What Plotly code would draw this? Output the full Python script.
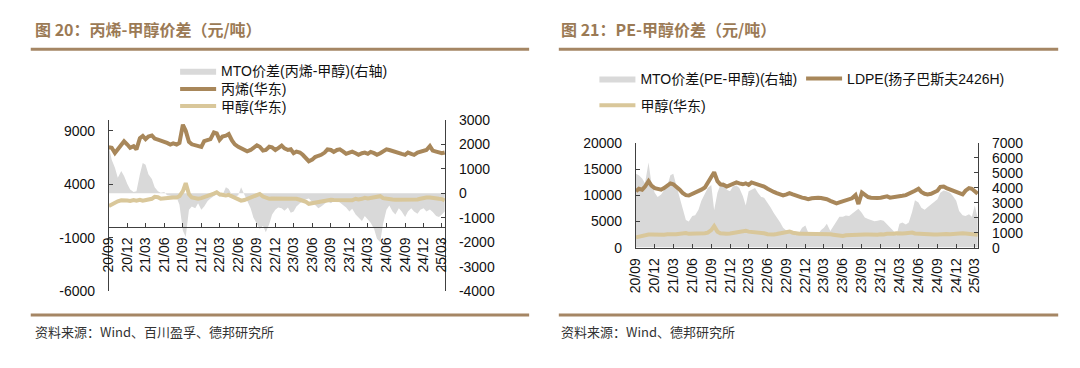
import pandas as pd
import plotly.graph_objects as go

# ---------------- data (semi-monthly samples) ----------------
dates = pd.date_range("2020-09-01", "2025-03-15", freq="SMS")

propylene = [7450, 7400, 6900, 7200, 7650, 8000, 7700, 7400, 7550, 7250,
             8300, 8500, 8200, 8450, 8550, 8250, 8150, 8100, 7950, 7850,
             7700, 7800, 7700, 7850, 9550, 8980, 7950, 7720, 7630, 7550,
             7480, 8020, 8140, 8200, 8830, 8740, 8140, 8440, 8530, 8680,
             8080, 7720, 7490, 7340, 7190, 7070, 7190, 7430, 7630, 7490,
             7130, 7190, 7490, 7430, 7190, 7370, 7600, 7340, 7190, 7250,
             6890, 7040, 6950, 6740, 6350, 6140, 6290, 6530, 6650, 6740,
             6950, 7250, 7190, 7010, 7190, 7250, 7040, 6830, 6950, 7040,
             6890, 6740, 6890, 6950, 6830, 7010, 6890, 6740, 6890, 7070,
             7250, 7190, 7070, 7010, 6920, 6830, 6740, 6950, 6830, 6740,
             6950, 7040, 7130, 7190, 7550, 7130, 7040, 6950, 6890, 6950]

methanol = [1950, 2100, 2280, 2400, 2490, 2510, 2460, 2430, 2510, 2460,
            2540, 2460, 2540, 2570, 2630, 2810, 2780, 2630, 2630, 2690,
            2720, 2750, 2750, 2870, 3350, 4100, 3050, 2750, 2630, 2630,
            2690, 2810, 2930, 2990, 3110, 3230, 3050, 2990, 2930, 2990,
            2840, 2750, 2570, 2460, 2510, 2600, 2720, 2810, 2990, 3080,
            2840, 2720, 2630, 2660, 2660, 2660, 2690, 2630, 2660, 2660,
            2720, 2630, 2540, 2460, 2340, 2160, 2220, 2340, 2400, 2460,
            2510, 2570, 2540, 2510, 2510, 2460, 2510, 2460, 2540, 2490,
            2630, 2570, 2630, 2720, 2660, 2690, 2750, 2840, 2870, 2690,
            2630, 2540, 2570, 2540, 2540, 2510, 2510, 2600, 2570, 2600,
            2570, 2630, 2720, 2750, 2750, 2690, 2630, 2630, 2600, 2460]

mto_spread_c3 = [1900, 1370, 1040, 640, 910, 710, 380, 160, 50, 80,
                 780, 1240, 1170, 780, 580, 250, 80, 20, 50, -80,
                 -100, -140, -160, -470, -1530, -1790, -670, -540, -610, -410,
                 -670, -540, -320, -210, -100, -30, -140, -80, 250, 180,
                 -80, -140, -80, 250, -50, -280, -610, -1000, -1260, -1460,
                 -1330, -1590, -1260, -870, -670, -580, -610, -710, -580, -800,
                 -740, -540, -410, -320, -240, -210, -340, -470, -610, -540,
                 -410, -340, -410, -320, -280, -370, -500, -580, -740, -630,
                 -870, -1000, -1130, -930, -1070, -1200, -1460, -1860, -1990, -1260,
                 -670, -500, -740, -870, -610, -740, -970, -740, -610, -740,
                 -840, -670, -610, -740, -660, -760, -930, -970, -870, -740]

ldpe = [10750, 11240, 11060, 11660, 12700, 11850, 11360, 11180, 11060, 11360,
        11970, 12270, 12090, 11660, 11060, 10450, 10020, 9960, 10270, 10450,
        10630, 11060, 11480, 12270, 13490, 14400, 12700, 12090, 11970, 11660,
        11970, 12210, 12450, 12270, 12090, 12270, 11970, 12450, 12270, 12090,
        11970, 11660, 11240, 10870, 10630, 10390, 10150, 9960, 10150, 10390,
        10150, 9900, 9720, 9540, 9420, 9230, 9420, 9540, 9540, 9480,
        9420, 9230, 8930, 8690, 8440, 8630, 8810, 8930, 9170, 9420,
        10020, 8320, 10510, 10020, 9660, 9540, 9420, 9480, 9540, 9600,
        9780, 9540, 9600, 9660, 9720, 9900, 10020, 10270, 10450, 10870,
        11240, 10630, 10270, 10150, 10270, 10450, 10870, 11600, 11660, 11360,
        11120, 10870, 10630, 10390, 10150, 10870, 11360, 11240, 10750, 10270]

mto_spread_pe = [4940, 4830, 4620, 4300, 5680, 4300, 3660, 3380, 3550, 3810,
                 4190, 4830, 4940, 4190, 3340, 2490, 1850, 1750, 2110, 2170,
                 2530, 3130, 3550, 3980, 4190, 2490, 3660, 4190, 4400, 3870,
                 3770, 4090, 4150, 3980, 3450, 2810, 3770, 3870, 3980, 3660,
                 3380, 3340, 3020, 2700, 2320, 2060, 1680, 1320, 1110, 960,
                 890, 830, 1000, 1320, 1470, 1000, 890, 1000, 890, 1170,
                 1320, 1600, 1110, 1430, 1810, 2060, 2060, 2150, 2110, 2280,
                 2450, 2600, 2320, 2020, 1920, 1850, 1770, 1790, 1850, 1790,
                 1530, 1380, 1110, 790, 1600, 1680, 1550, 1680, 2380, 3170,
                 3020, 2660, 2530, 2700, 2870, 3020, 3230, 3660, 3810, 3770,
                 3660, 3450, 3130, 2450, 2170, 2110, 2230, 2060, 2810, 1960]

tick_text = ["20/09", "20/12", "21/03", "21/06", "21/09", "21/12", "22/03",
             "22/06", "22/09", "22/12", "23/03", "23/06", "23/09", "23/12",
             "24/03", "24/06", "24/09", "24/12", "25/03"]
tick_vals = ["20" + t[:2] + "-" + t[3:] + "-01" for t in tick_text]

left_price_ticks = [-6000, -1000, 4000, 9000]
left_spread_ticks = [-4000, -3000, -2000, -1000, 0, 1000, 2000, 3000]
right_price_ticks = [0, 5000, 10000, 15000, 20000]
right_spread_ticks = [0, 1000, 2000, 3000, 4000, 5000, 6000, 7000]

# ---------------- styles ----------------
W, H = 1080, 368
BROWN = "#A8875A"
TAN = "#D9C79A"
GRAY = "#D9D9D9"
TITLE_C = "#9B7A55"
RULE_C = "#A58664"
AXIS_C = "#404040"
FONT = "Liberation Sans, Noto Sans CJK SC, sans-serif"
CJK = "Noto Sans CJK SC, Liberation Sans, sans-serif"


def px(x):
    return x / W


def py(y):
    return 1 - y / H


fig = go.Figure()

# ---- left chart ----
fig.add_trace(go.Scatter(x=dates, y=mto_spread_c3, name="MTO价差(丙烯-甲醇)(右轴)",
                         mode="lines", fill="tozeroy", fillcolor=GRAY,
                         line=dict(width=0, color=GRAY), xaxis="x", yaxis="y",
                         legend="legend"))
fig.add_trace(go.Scatter(x=dates, y=propylene, name="丙烯(华东)", mode="lines",
                         line=dict(color=BROWN, width=4), xaxis="x", yaxis="y2",
                         legend="legend2"))
fig.add_trace(go.Scatter(x=dates, y=methanol, name="甲醇(华东)", mode="lines",
                         line=dict(color=TAN, width=4), xaxis="x", yaxis="y2",
                         legend="legend3"))

# ---- right chart ----
fig.add_trace(go.Scatter(x=dates, y=mto_spread_pe, name="MTO价差(PE-甲醇)(右轴)",
                         mode="lines", fill="tozeroy", fillcolor=GRAY,
                         line=dict(width=0, color=GRAY), xaxis="x2", yaxis="y3",
                         legend="legend4"))
fig.add_trace(go.Scatter(x=dates, y=ldpe, name="LDPE(扬子巴斯夫2426H)", mode="lines",
                         line=dict(color=BROWN, width=4), xaxis="x2", yaxis="y4",
                         legend="legend5"))
fig.add_trace(go.Scatter(x=dates, y=methanol, name="甲醇(华东)", mode="lines",
                         line=dict(color=TAN, width=4), xaxis="x2", yaxis="y4",
                         legend="legend6"))

# geometry
L_X0, L_X1, L_Y0, L_Y1 = 102, 442, 296, 117
R_X0, R_X1, R_Y0, R_Y1 = 635, 981, 250.5, 141
left_ydom = [py(L_Y0), py(L_Y1)]
right_ydom = [py(R_Y0), py(R_Y1)]
zero_pos = left_ydom[0] + (0 - (-6000)) / 16000 * (left_ydom[1] - left_ydom[0])

tickfont = dict(family=FONT, size=14, color="#111111")
xcommon = dict(type="date", range=["2020-09-01", "2025-03-17"], tickmode="array",
               tickvals=tick_vals, ticktext=tick_text, tickangle=-90,
               ticks="inside", ticklen=4, tickcolor=AXIS_C, showline=True,
               linecolor=AXIS_C, linewidth=1, showgrid=False, zeroline=False,
               tickfont=tickfont, ticklabelstandoff=4)
ycommon = dict(showgrid=False, zeroline=False, showline=True, linecolor=AXIS_C,
               linewidth=1, ticks="inside", ticklen=4, tickcolor=AXIS_C,
               tickfont=tickfont, ticklabelstandoff=10, tickmode="array")


def tickset(vals):
    return dict(tickvals=vals, ticktext=[str(v) for v in vals])


def leg(x, y):
    return dict(x=px(x), y=py(y), xanchor="left", yanchor="middle",
                orientation="h", font=dict(family=FONT, size=14, color="#111111"),
                bgcolor="rgba(0,0,0,0)", itemwidth=36)


fig.update_layout(
    width=W, height=H, margin=dict(l=0, r=0, t=0, b=0),
    paper_bgcolor="white", plot_bgcolor="rgba(0,0,0,0)",
    font=dict(family=FONT, size=14, color="#111111"),
    showlegend=True, hovermode=False,
    xaxis=dict(domain=[px(L_X0), px(L_X1)], anchor="free", position=zero_pos, **xcommon),
    yaxis=dict(domain=left_ydom, range=[-4000, 3000], side="right",
               anchor="x", **tickset(left_spread_ticks), **ycommon),
    yaxis2=dict(range=[-6000, 10000], side="left", overlaying="y", anchor="x",
                **tickset(left_price_ticks), **ycommon),
    xaxis2=dict(domain=[px(R_X0), px(R_X1)], anchor="y3", **xcommon),
    yaxis3=dict(domain=right_ydom, range=[0, 7000], side="right", anchor="x2",
                **tickset(right_spread_ticks), **ycommon),
    yaxis4=dict(range=[0, 20000], side="left", overlaying="y3", anchor="x2",
                **tickset(right_price_ticks), **ycommon),
    legend=leg(169, 66),
    legend2=leg(169, 85),
    legend3=leg(169, 103),
    legend4=leg(593, 74),
    legend5=leg(802, 74),
    legend6=leg(593, 102),
)

# title rules and footer rules
shapes = []
for x0, x1 in [(23, 527), (557, 1062)]:
    shapes.append(dict(type="line", xref="paper", yref="paper", x0=px(x0), x1=px(x1),
                       y0=py(43), y1=py(43), line=dict(color=RULE_C, width=3)))
    shapes.append(dict(type="line", xref="paper", yref="paper", x0=px(x0), x1=px(x1),
                       y0=py(321), y1=py(321), line=dict(color=RULE_C, width=3)))
fig.update_layout(shapes=shapes)

annotations = [
    dict(text="<b>图 20：丙烯-甲醇价差（元/吨）</b>", x=px(25), y=py(22)),
    dict(text="<b>图 21：PE-甲醇价差（元/吨）</b>", x=px(557), y=py(22)),
]
for a in annotations:
    a.update(xref="paper", yref="paper", xanchor="left", yanchor="middle",
             showarrow=False, font=dict(family=CJK, size=16, color=TITLE_C))
src = [
    dict(text="资料来源：Wind、百川盈孚、德邦研究所", x=px(25), y=py(338)),
    dict(text="资料来源：Wind、德邦研究所", x=px(557), y=py(338)),
]
for a in src:
    a.update(xref="paper", yref="paper", xanchor="left", yanchor="middle",
             showarrow=False, font=dict(family=CJK, size=13, color="#333333"))
fig.update_layout(annotations=annotations + src)

fig.write_html("out.html",
               config={"displayModeBar": False, "staticPlot": True},
               post_script="document.body.style.margin='0';"
                           "document.body.style.overflow='hidden';")
